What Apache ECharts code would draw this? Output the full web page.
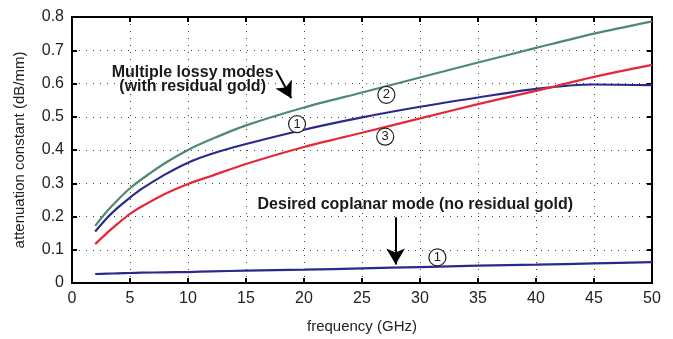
<!DOCTYPE html>
<html>
<head>
<meta charset="utf-8">
<script src="https://cdn.jsdelivr.net/npm/echarts@6/dist/echarts.min.js"></script>
<style>
  html, body { margin: 0; padding: 0; background: #fff; }
  #chart { width: 673px; height: 339px; }
</style>
</head>
<body>
<div id="chart"></div>
<script>
// Frequency sample points (GHz)
const freq = [2, 3, 4, 5, 6, 8, 10, 12, 15, 20, 25, 30, 35, 40, 45, 50];
// Attenuation (dB/mm) of the lossy modes with residual gold
const mode1Lossy = [0.155, 0.195, 0.228, 0.257, 0.283, 0.326, 0.362, 0.388, 0.418, 0.461, 0.498, 0.530, 0.558, 0.584, 0.597, 0.595];
const mode2Lossy = [0.172, 0.215, 0.252, 0.285, 0.312, 0.360, 0.400, 0.432, 0.474, 0.528, 0.573, 0.618, 0.663, 0.707, 0.750, 0.787];
const mode3Lossy = [0.117, 0.150, 0.180, 0.208, 0.230, 0.268, 0.298, 0.322, 0.358, 0.409, 0.452, 0.495, 0.538, 0.578, 0.620, 0.656];
// Desired coplanar mode without residual gold
const coplanar = [0.027, 0.028, 0.029, 0.030, 0.031, 0.032, 0.033, 0.035, 0.037, 0.040, 0.044, 0.048, 0.052, 0.055, 0.059, 0.063];
const xTicks = { min: 0, max: 50, interval: 5 };
const yTicks = { min: 0, max: 0.8, interval: 0.1 };

const pairs = ys => freq.map((f, i) => [f, ys[i]]);

const FONT = 'Liberation Sans, Arial, Helvetica, sans-serif';
const gridLine = { show: true, lineStyle: { color: '#444', width: 1, type: [1, 6] } };
const axisLine = { show: true, onZero: false, lineStyle: { color: '#000', width: 2 } };
const tick = { show: true, inside: true, length: 5, lineStyle: { color: '#000', width: 2 } };

function circled(num, coord) {
  return {
    coord: coord,
    symbol: 'circle',
    symbolSize: 17,
    itemStyle: { color: '#fff', borderColor: '#222', borderWidth: 1.2 },
    label: { show: true, position: 'inside', formatter: num, fontFamily: FONT, fontSize: 13, color: '#222' }
  };
}
function textNote(text, coord) {
  return {
    coord: coord,
    symbol: 'circle',
    symbolSize: 0,
    itemStyle: { color: 'transparent' },
    label: { show: true, position: 'inside', formatter: text, fontFamily: FONT, fontSize: 16, fontWeight: 'bold', color: '#1a1a1a', lineHeight: 14 }
  };
}
const arrowLine = (a, b) => [{ coord: a }, { coord: b }];

const curve = (name, ys, color) => ({
  name: name, type: 'line', smooth: 0.3, showSymbol: false,
  data: pairs(ys), lineStyle: { color: color, width: 2.2 }, z: 3
});

const chart = echarts.init(document.getElementById('chart'), null, { renderer: 'canvas' });
chart.setOption({
  animation: false,
  backgroundColor: '#fff',
  grid: { left: 72, right: 21, top: 17, bottom: 51, show: true, borderColor: '#000', borderWidth: 2 },
  xAxis: [
    {
      type: 'value', min: xTicks.min, max: xTicks.max, interval: xTicks.interval,
      name: 'frequency (GHz)', nameLocation: 'middle', nameGap: 36,
      nameTextStyle: { fontFamily: FONT, fontSize: 15, color: '#222' },
      axisLine: axisLine, axisTick: tick, splitLine: gridLine,
      axisLabel: { fontFamily: FONT, fontSize: 16, color: '#222', margin: 8 }
    },
    {
      type: 'value', position: 'top', min: xTicks.min, max: xTicks.max, interval: xTicks.interval,
      axisLine: axisLine, axisTick: tick, splitLine: { show: false }, axisLabel: { show: false }
    }
  ],
  yAxis: [
    {
      type: 'value', min: yTicks.min, max: yTicks.max, interval: yTicks.interval,
      name: 'attenuation constant (dB/mm)', nameLocation: 'middle', nameGap: 45,
      nameTextStyle: { fontFamily: FONT, fontSize: 15, color: '#222' },
      axisLine: axisLine, axisTick: tick, splitLine: gridLine,
      axisLabel: { fontFamily: FONT, fontSize: 16, color: '#222', margin: 8, formatter: v => String(+v.toFixed(1)) }
    },
    {
      type: 'value', position: 'right', min: yTicks.min, max: yTicks.max, interval: yTicks.interval,
      axisLine: axisLine, axisTick: tick, splitLine: { show: false }, axisLabel: { show: false }
    }
  ],
  series: [
    curve('mode 2', mode2Lossy, '#4f8a6c'),
    curve('mode 1', mode1Lossy, '#2a2a8c'),
    curve('mode 3', mode3Lossy, '#e4283a'),
    Object.assign(curve('coplanar', coplanar, '#2a2a8c'), {
      markPoint: {
        silent: true, z: 5,
        data: [
          textNote('Multiple lossy modes\n(with residual gold)', [10.4, 0.611]),
          textNote('Desired coplanar mode (no residual gold)', [29.6, 0.236]),
          circled('1', [19.4, 0.478]),
          circled('2', [27.1, 0.566]),
          circled('3', [27.0, 0.440]),
          circled('1', [31.5, 0.077])
        ]
      },
      markLine: {
        silent: true, z: 5,
        symbol: ['none', 'arrow'], symbolSize: [14, 16],
        label: { show: false },
        lineStyle: { color: '#000', width: 2, type: 'solid' },
        data: [
          arrowLine([17.6, 0.640], [18.9, 0.556]),
          arrowLine([27.9, 0.198], [27.9, 0.056])
        ]
      }
    })
  ]
});
</script>
</body>
</html>
